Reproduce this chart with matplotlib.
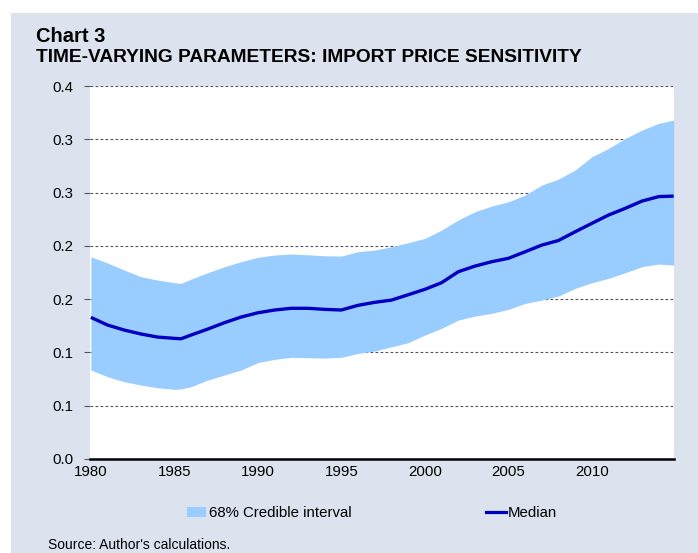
import numpy as np
import matplotlib
matplotlib.use('Agg')
import matplotlib.pyplot as plt
from matplotlib.patches import Rectangle, Patch
from matplotlib.lines import Line2D

plt.rcParams['font.family'] = ['Liberation Sans', 'DejaVu Sans']

# values (yearly, last point = end of 2014)
years = [1980, 1981, 1982, 1983, 1984, 1985, 1985.4, 1986, 1987, 1988, 1989,
         1990, 1991, 1992, 1993, 1994, 1995, 1996, 1997, 1998, 1999,
         2000, 2001, 2002, 2003, 2004, 2005, 2006, 2007, 2008, 2009,
         2010, 2011, 2012, 2013, 2014, 2014.9]
median = [0.1329, 0.1257, 0.1210, 0.1173, 0.1144, 0.1132, 0.1128, 0.1163, 0.1219, 0.1279, 0.1332,
          0.1372, 0.1398, 0.1414, 0.1414, 0.1404, 0.1398, 0.1442, 0.1470, 0.1491, 0.1541,
          0.1592, 0.1654, 0.1757, 0.1810, 0.1851, 0.1883, 0.1944, 0.2007, 0.2050, 0.2132,
          0.2211, 0.2289, 0.2352, 0.2420, 0.2462, 0.2467]
upper = [0.1898, 0.1839, 0.1773, 0.1710, 0.1679, 0.1654, 0.1648, 0.1688, 0.1748, 0.1804, 0.1851,
         0.1892, 0.1914, 0.1923, 0.1916, 0.1907, 0.1904, 0.1945, 0.1960, 0.1991, 0.2029,
         0.2070, 0.2148, 0.2242, 0.2320, 0.2373, 0.2413, 0.2476, 0.2570, 0.2626, 0.2711,
         0.2836, 0.2914, 0.3008, 0.3086, 0.3149, 0.3180]
lower = [0.0835, 0.0772, 0.0725, 0.0694, 0.0669, 0.0654, 0.0657, 0.0678, 0.0741, 0.0788, 0.0835,
         0.0905, 0.0935, 0.0954, 0.0950, 0.0947, 0.0954, 0.0991, 0.1013, 0.1053, 0.1091,
         0.1163, 0.1226, 0.1304, 0.1341, 0.1367, 0.1404, 0.1460, 0.1491, 0.1529, 0.1601,
         0.1654, 0.1695, 0.1748, 0.1804, 0.1829, 0.1820]

ytick_vals = [0, 0.05, 0.10, 0.15, 0.20, 0.25, 0.30, 0.35]
ytick_labels = ['0.0', '0.1', '0.1', '0.2', '0.2', '0.3', '0.3', '0.4']
xtick_vals = [1980, 1985, 1990, 1995, 2000, 2005, 2010]

BG = '#dce3ef'
BAND = '#99ccff'
LINE = '#0000c0'

fig = plt.figure(figsize=(6.98, 5.53), dpi=100)
fig.patch.set_facecolor('white')
fig.patches.append(Rectangle((11 / 698, 0), 1, 1 - 13 / 553, transform=fig.transFigure,
                             facecolor=BG, edgecolor='none', zorder=-10))

ax = fig.add_axes([90 / 698, (553 - 459) / 553, (674 - 90) / 698, (459 - 86) / 553])
ax.set_facecolor('white')
ax.fill_between(years, lower, upper, color=BAND, lw=0, zorder=2)
ax.plot(years, median, color=LINE, lw=2.4, zorder=3, solid_capstyle='butt')

ax.set_xlim(1979.95, 2014.92)
ax.set_ylim(0, 0.35)
ax.set_yticks(ytick_vals)
ax.set_yticklabels(ytick_labels)
ax.set_xticks(xtick_vals)
ax.set_xticklabels([str(v) for v in xtick_vals])

ax.grid(axis='y', color='#555555', lw=0.8, linestyle=(0, (2.5, 2)), zorder=1)
ax.set_axisbelow(True)
for s in ['top', 'right', 'left']:
    ax.spines[s].set_visible(False)
ax.spines['bottom'].set_linewidth(1.8)
ax.spines['bottom'].set_color('black')
ax.spines['bottom'].set_zorder(5)
ax.tick_params(axis='y', length=4, width=0.8, color='#555555', pad=8, labelsize=10.8)
ax.tick_params(axis='x', length=0, pad=4, labelsize=10.8)

fig.text(36 / 698, 1 - 37 / 553, 'Chart 3', fontsize=14.5, fontweight='bold', va='center', ha='left')
fig.text(36 / 698, 1 - 57 / 553, 'TIME-VARYING PARAMETERS: IMPORT PRICE SENSITIVITY',
         fontsize=13.8, fontweight='bold', va='center', ha='left')

handles = [Patch(facecolor=BAND, edgecolor='none'),
           Line2D([0], [0], color=LINE, lw=2.3)]
fig.legend(handles, ['68% Credible interval', 'Median'], loc='center',
           bbox_to_anchor=(372 / 698, 1 - 513 / 553), ncol=2, frameon=False,
           fontsize=10.8, handlelength=1.3, handleheight=0.7, handletextpad=0.15,
           columnspacing=9.0)

fig.text(48 / 698, 1 - 545 / 553, "Source: Author's calculations.", fontsize=10,
         va='center', ha='left')

fig.savefig('out.png', dpi=100, facecolor=fig.get_facecolor())
